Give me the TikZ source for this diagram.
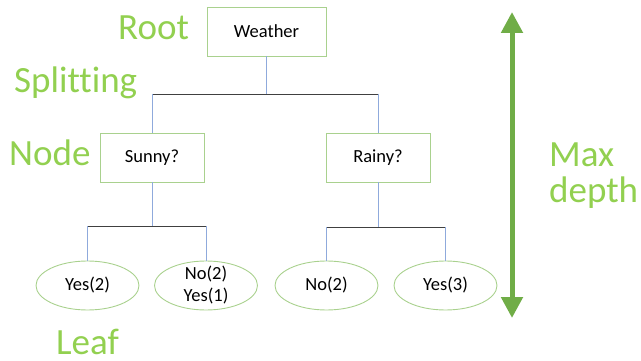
\documentclass[tikz,border=0pt]{standalone}
\usepackage{fontspec}
\setmainfont{Carlito}[Ligatures=NoCommon]
\usepackage{tikz}
\usetikzlibrary{shapes.geometric}
\usetikzlibrary{arrows.meta}
\definecolor{labgreen}{HTML}{92D050}
\definecolor{arrgreen}{HTML}{70AD47}
\definecolor{boxgreen}{HTML}{A9D18E}
\definecolor{linkblue}{HTML}{8FAADC}
\definecolor{bargrey}{HTML}{404040}

\begin{document}
\begin{tikzpicture}[x=1pt, y=-1pt,
test/.style ={shape=rectangle, draw=boxgreen, line width=0.9pt, inner sep=0pt,
  minimum height=49pt, font=\fontsize{18.5}{22}\selectfont},
leaf/.style ={shape=ellipse, draw=boxgreen, line width=0.9pt, inner xsep=0pt,
  inner ysep=-3pt, minimum width=103pt, minimum height=49pt, align=center,
  font=\fontsize{18.5}{22}\selectfont},
tag/.style ={text=labgreen, inner sep=0pt, anchor=base west, font=\fontsize{37}{36}\selectfont},
vlink/.style ={draw=linkblue, line width=0.8pt},
hbar/.style ={draw=bargrey, line width=0.8pt},
auto]
\useasboundingbox (0,0) rectangle (641,361);
% tree
\node[test, minimum width=119pt] (weather) at (266.5,31.5) {Weather};
\node[test, minimum width=104pt] (sunny) at (152,157.5) {Sunny?};
\node[test, minimum width=104pt] (rainy) at (378,157.5) {Rainy?};
\node[leaf] (yes2) at (87.5,285.5) {Yes(2)};
\node[leaf] (noyes) at (206,285.5) {No(2)\\Yes(1)};
\node[leaf] (no2) at (326.5,285.5) {No(2)};
\node[leaf] (yes3) at (445.5,285.5) {Yes(3)};
\coordinate (split1) at (266.5,94);
\coordinate (split2) at (152,226);
\coordinate (split3) at (378,227);
\draw[vlink] (weather) -- (split1);
\draw[hbar] (split1 -| sunny) -- (split1 -| rainy);
\draw[vlink] (split1 -| sunny) -- (sunny);
\draw[vlink] (split1 -| rainy) -- (rainy);
\draw[vlink] (sunny) -- (split2);
\draw[hbar] (split2 -| yes2) -- (split2 -| noyes);
\draw[vlink] (split2 -| yes2) -- (yes2);
\draw[vlink] (split2 -| noyes) -- (noyes);
\draw[vlink] (rainy) -- (split3);
\draw[hbar] (split3 -| no2) -- (split3 -| yes3);
\draw[vlink] (split3 -| no2) -- (no2);
\draw[vlink] (split3 -| yes3) -- (yes3);
% labels
\node[tag] (root) at (118,40) {Root};
\node[tag] (splitting) at (14,93) {Splitting};
\node[tag] (nodetag) at (9,166) {Node};
\node[tag] (leaftag) at (56,354) {Leaf};
\node[tag] (max) at (549,167) {Max};
\node[tag] (depth) at (549,203) {depth};
% depth arrow
\coordinate (top) at (512,12);
\coordinate (bottom) at (512,318);
\draw[draw=arrgreen, line width=5pt,
  {Triangle[length=21pt,width=21pt]}-{Triangle[length=21pt,width=21pt]}] (top) -- (bottom);
\end{tikzpicture}
\end{document}
